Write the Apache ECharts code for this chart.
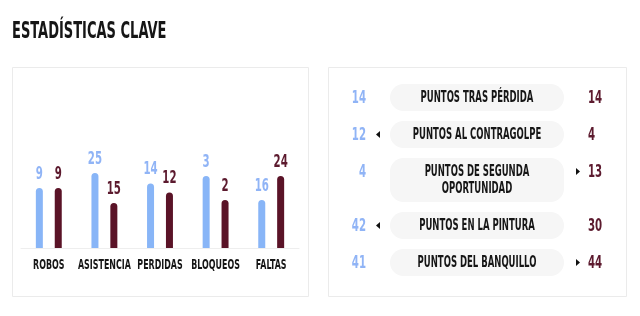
<!DOCTYPE html>
<html>
<head>
<meta charset="utf-8">
<script src="https://cdn.jsdelivr.net/npm/echarts@6/dist/echarts.min.js"></script>
<style>
html, body { margin: 0; padding: 0; background: #fff; }
#chart { width: 640px; height: 316px; }
</style>
</head>
<body>
<div id="chart"></div>
<script>
// barras: equipo local (azul) vs visitante (granate)
var categories = ['ROBOS', 'ASISTENCIA', 'PERDIDAS', 'BLOQUEOS', 'FALTAS'];
var homeValues = [9, 25, 14, 3, 16];
var awayValues = [9, 15, 12, 2, 24];

// tabla de puntos
var pointLabels = ['PUNTOS TRAS PÉRDIDA', 'PUNTOS AL CONTRAGOLPE', 'PUNTOS DE SEGUNDA\nOPORTUNIDAD', 'PUNTOS EN LA PINTURA', 'PUNTOS DEL BANQUILLO'];
var homePoints = [14, 12, 4, 42, 41];
var awayPoints = [14, 4, 13, 30, 44];

var FONT = '"DejaVu Sans Condensed", "DejaVu Sans", sans-serif';
var SX = 0.63; // no hay fuente estrecha, se comprime el texto
var BLUE = '#88b5f7';
var BLUE_TXT = '#90b4f6';
var MAROON = '#5a1327';
var MAROON_TXT = '#5c1a2e';
var BAR_W = 7, BAR_GAP = 1.7;
var barOffset = (BAR_W + BAR_W * BAR_GAP) / 2;

// la altura de cada barra es su parte del total del par
var homeShare = homeValues.map(function (v, i) { return v / (v + awayValues[i]) * 100; });
var awayShare = awayValues.map(function (v, i) { return v / (homeValues[i] + v) * 100; });

function txt(x, y, text, size, color, align) {
    return {
        type: 'text', x: x, y: y, scaleX: SX,
        style: { x: 0, y: 0, text: text, align: align || 'center', verticalAlign: 'middle',
            font: 'bold ' + size + 'px ' + FONT, fill: color, lineHeight: 17 }
    };
}

function renderLabels(params, api) {
    var i = api.value(0);
    var base = api.coord([i, 0]);
    var h = api.coord([i, api.value(1)]);
    var a = api.coord([i, api.value(2)]);
    return {
        type: 'group',
        children: [
            txt(base[0], base[1] + 17, categories[i], 14, '#161616'),
            txt(h[0] - barOffset, h[1] - 14, String(homeValues[i]), 18, BLUE_TXT),
            txt(a[0] + barOffset, a[1] - 14, String(awayValues[i]), 18, MAROON_TXT)
        ]
    };
}

function renderRow(params, api) {
    var i = params.dataIndex;
    var top = 84;
    for (var k = 0; k < i; k++) {
        top += (pointLabels[k].indexOf('\n') >= 0 ? 44 : 27) + 10;
    }
    var h = pointLabels[i].indexOf('\n') >= 0 ? 44 : 27;
    var lineY = top + 13.5;
    var l = homePoints[i], r = awayPoints[i];
    var arrowPts = l > r ? [[376, lineY], [380, lineY - 3.5], [380, lineY + 3.5]]
                         : [[580, lineY], [576, lineY - 3.5], [576, lineY + 3.5]];
    return {
        type: 'group',
        children: [
            { type: 'rect', shape: { x: 390, y: top, width: 174, height: h, r: 13.5 }, style: { fill: '#f6f6f6' } },
            txt(477, top + h / 2 + 0.5, pointLabels[i], 15, '#161616'),
            txt(366, lineY + 0.5, String(l), 18, BLUE_TXT, 'right'),
            txt(588, lineY + 0.5, String(r), 18, MAROON_TXT, 'left'),
            { type: 'polygon', shape: { points: arrowPts }, style: { fill: l === r ? 'rgba(0,0,0,0)' : '#111' } }
        ]
    };
}

var chart = echarts.init(document.getElementById('chart'));
chart.setOption({
    animation: false,
    graphic: [
        { type: 'text', x: 12, y: 32, scaleX: SX, style: { text: 'ESTADÍSTICAS CLAVE', verticalAlign: 'middle', font: 'bold 23px ' + FONT, fill: '#161616' } },
        { type: 'rect', shape: { x: 12.5, y: 67.5, width: 296, height: 229 }, style: { fill: 'none', stroke: '#ebebeb', lineWidth: 1 } },
        { type: 'rect', shape: { x: 328.5, y: 67.5, width: 298, height: 229 }, style: { fill: 'none', stroke: '#ebebeb', lineWidth: 1 } }
    ],
    grid: { left: 21, width: 278, top: 128, height: 120 },
    xAxis: {
        type: 'category',
        data: categories,
        axisLine: { lineStyle: { color: '#eeeeee', width: 1 } },
        axisTick: { show: false },
        axisLabel: { show: false }
    },
    yAxis: { type: 'value', min: 0, max: 100, show: false, splitLine: { show: false } },
    series: [
        {
            type: 'bar', data: homeShare, barWidth: BAR_W, barGap: (BAR_GAP * 100) + '%',
            itemStyle: { color: BLUE, borderRadius: [4, 4, 0, 0] }
        },
        {
            type: 'bar', data: awayShare, barWidth: BAR_W,
            itemStyle: { color: MAROON, borderRadius: [4, 4, 0, 0] }
        },
        {
            type: 'custom', silent: true,
            data: categories.map(function (c, i) { return [i, homeShare[i], awayShare[i]]; }),
            renderItem: renderLabels
        },
        {
            type: 'custom', coordinateSystem: 'none', silent: true,
            data: pointLabels.map(function (l, i) { return [i, homePoints[i], awayPoints[i]]; }),
            renderItem: renderRow
        }
    ]
});
</script>
</body>
</html>
